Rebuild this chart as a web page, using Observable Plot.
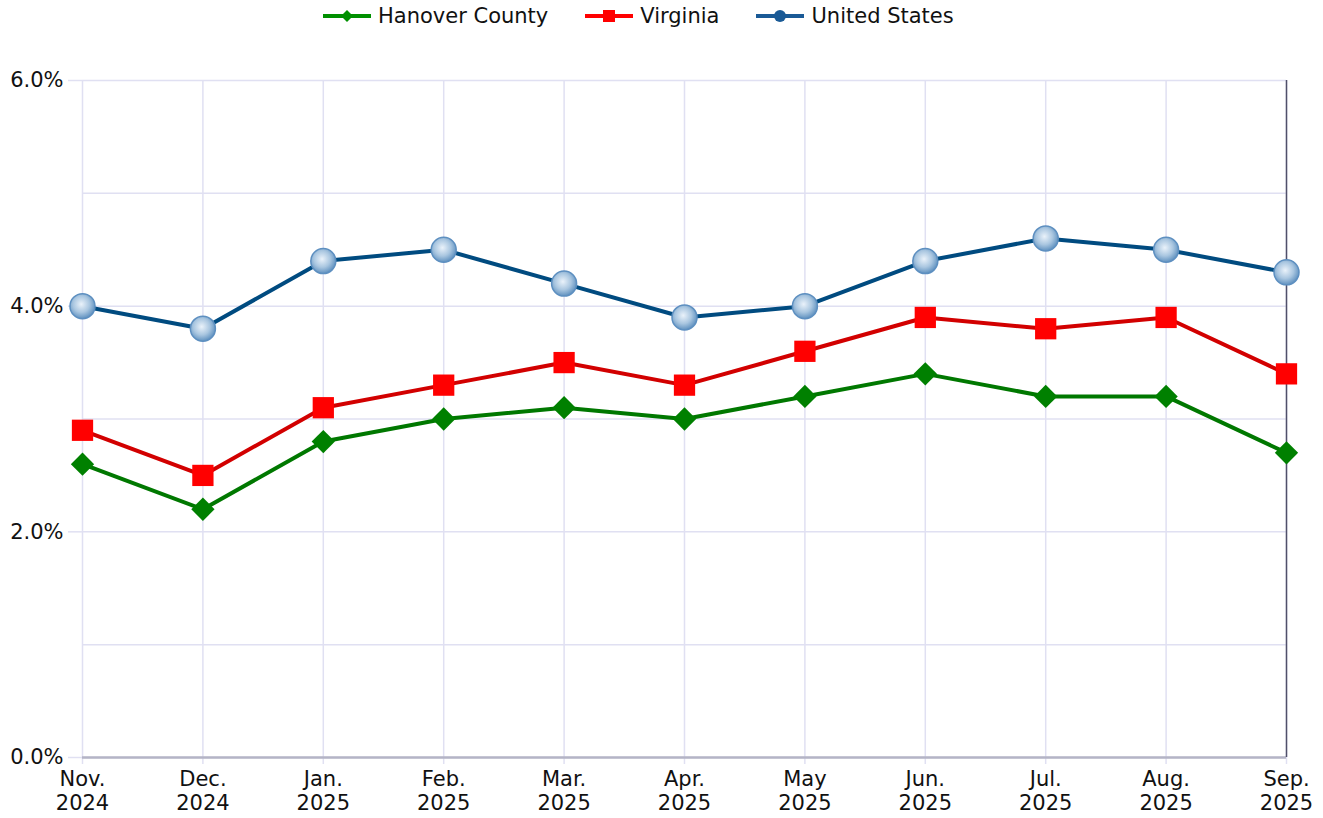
<!DOCTYPE html>
<html><head><meta charset="utf-8">
<script src="https://cdn.jsdelivr.net/npm/d3@7"></script>
<script src="https://cdn.jsdelivr.net/npm/@observablehq/plot@0.6"></script>
<style>
body{margin:0;background:#fff;font-family:"DejaVu Sans",sans-serif;}
#legend{height:31px;padding-bottom:4px;display:flex;align-items:center;padding-left:323px;font-size:21px;color:#111;}
.item{display:flex;align-items:center;margin-right:37px;}
.item svg{margin-right:7px;}
</style></head><body>
<div id="legend"></div><div id="chart"></div>
<script>
const months = ["Nov.\n2024","Dec.\n2024","Jan.\n2025","Feb.\n2025","Mar.\n2025","Apr.\n2025","May\n2025","Jun.\n2025","Jul.\n2025","Aug.\n2025","Sep.\n2025"];
const hanover = [2.6, 2.2, 2.8, 3.0, 3.1, 3.0, 3.2, 3.4, 3.2, 3.2, 2.7];
const virginia = [2.9, 2.5, 3.1, 3.3, 3.5, 3.3, 3.6, 3.9, 3.8, 3.9, 3.4];
const unitedStates = [4.0, 3.8, 4.4, 4.5, 4.2, 3.9, 4.0, 4.4, 4.6, 4.5, 4.3];
const seriesNames = ["Hanover County", "Virginia", "United States"];
const yTicks = [0, 2, 4, 6];
const yGrid = [0, 1, 2, 3, 4, 5, 6];

const lineColors = {"Hanover County": "#007800", "Virginia": "#d20000", "United States": "#004b80"};
const markerColors = {"Hanover County": "#008000", "Virginia": "#ff0000", "United States": "#1f5f9f"};

const rows = (name, vals) => vals.map((v, i) => ({month: months[i], value: v, series: name}));
const hanRows = rows(seriesNames[0], hanover);
const vaRows = rows(seriesNames[1], virginia);
const usRows = rows(seriesNames[2], unitedStates);

// legend
const legend = d3.select("#legend");
const legendSym = {"Hanover County": "diamond", "Virginia": "square", "United States": "circle"};
const legendColor = {"Hanover County": "#009000", "Virginia": "#ff0000", "United States": "#1a5a96"};
seriesNames.forEach(name => {
  const it = legend.append("div").attr("class", "item");
  const s = it.append("svg").attr("width", 48).attr("height", 16);
  const c = legendColor[name];
  s.append("line").attr("x1", 0).attr("x2", 48).attr("y1", 8).attr("y2", 8).attr("stroke", c).attr("stroke-width", 4);
  if (legendSym[name] === "diamond") s.append("path").attr("d", "M24,2 L30,8 L24,14 L18,8 Z").attr("fill", c);
  else if (legendSym[name] === "square") s.append("rect").attr("x", 18).attr("y", 2).attr("width", 12).attr("height", 12).attr("fill", c);
  else s.append("circle").attr("cx", 24).attr("cy", 8).attr("r", 6).attr("fill", c);
  it.append("span").text(name);
});

const gridColor = "#e0e0f2";
const defs = () => {
  const d = d3.create("svg:defs");
  const g = d.append("radialGradient").attr("id", "ballGrad").attr("cx", "45%").attr("cy", "42%").attr("r", "60%");
  g.append("stop").attr("offset", "0%").attr("stop-color", "#eaf2fa");
  g.append("stop").attr("offset", "55%").attr("stop-color", "#a9c6e0");
  g.append("stop").attr("offset", "100%").attr("stop-color", "#5a8dbd");
  return d.node();
};

const chart = Plot.plot({
  width: 1323,
  height: 783,
  marginTop: 45,
  marginBottom: 61,
  marginLeft: 82,
  marginRight: 37,
  style: {fontFamily: "DejaVu Sans, sans-serif", fontSize: "21px", color: "#111", background: "#fff"},
  x: {type: "point", domain: months, padding: 0, round: false},
  y: {domain: [0, 6]},
  marks: [
    defs,
    Plot.gridX(months, {stroke: gridColor, strokeOpacity: 1, strokeWidth: 1.5}),
    Plot.gridY(yGrid, {stroke: gridColor, strokeOpacity: 1, strokeWidth: 1.5}),
    Plot.axisY(yTicks, {tickFormat: d => d.toFixed(1) + "%", tickSize: 14, tickPadding: 5, stroke: gridColor, strokeWidth: 1.5, fontSize: 21, label: null}),
    Plot.axisX(months, {tickSize: 7, tickPadding: 5, stroke: gridColor, strokeWidth: 1.5, fontSize: 21, lineHeight: 1.12, label: null}),
    Plot.ruleY([0], {stroke: "#b4b4c6", strokeWidth: 2.5}),
    Plot.ruleX([months[months.length - 1]], {stroke: "#50506a", strokeWidth: 1.5}),
    Plot.line(hanRows, {x: "month", y: "value", stroke: lineColors["Hanover County"], strokeWidth: 4}),
    Plot.line(vaRows, {x: "month", y: "value", stroke: lineColors["Virginia"], strokeWidth: 4}),
    Plot.line(usRows, {x: "month", y: "value", stroke: lineColors["United States"], strokeWidth: 4}),
    Plot.dot(hanRows, {x: "month", y: "value", symbol: "diamond2", r: 10.5, fill: markerColors["Hanover County"], stroke: "none"}),
    Plot.dot(vaRows, {x: "month", y: "value", symbol: "square", r: 12, fill: markerColors["Virginia"], stroke: "none"}),
    Plot.dot(usRows, {x: "month", y: "value", symbol: "circle", r: 12.5, fill: "url(#ballGrad)", stroke: "#5d8fc0", strokeWidth: 1.5})
  ]
});
document.getElementById("chart").appendChild(chart);
</script>
</body></html>
